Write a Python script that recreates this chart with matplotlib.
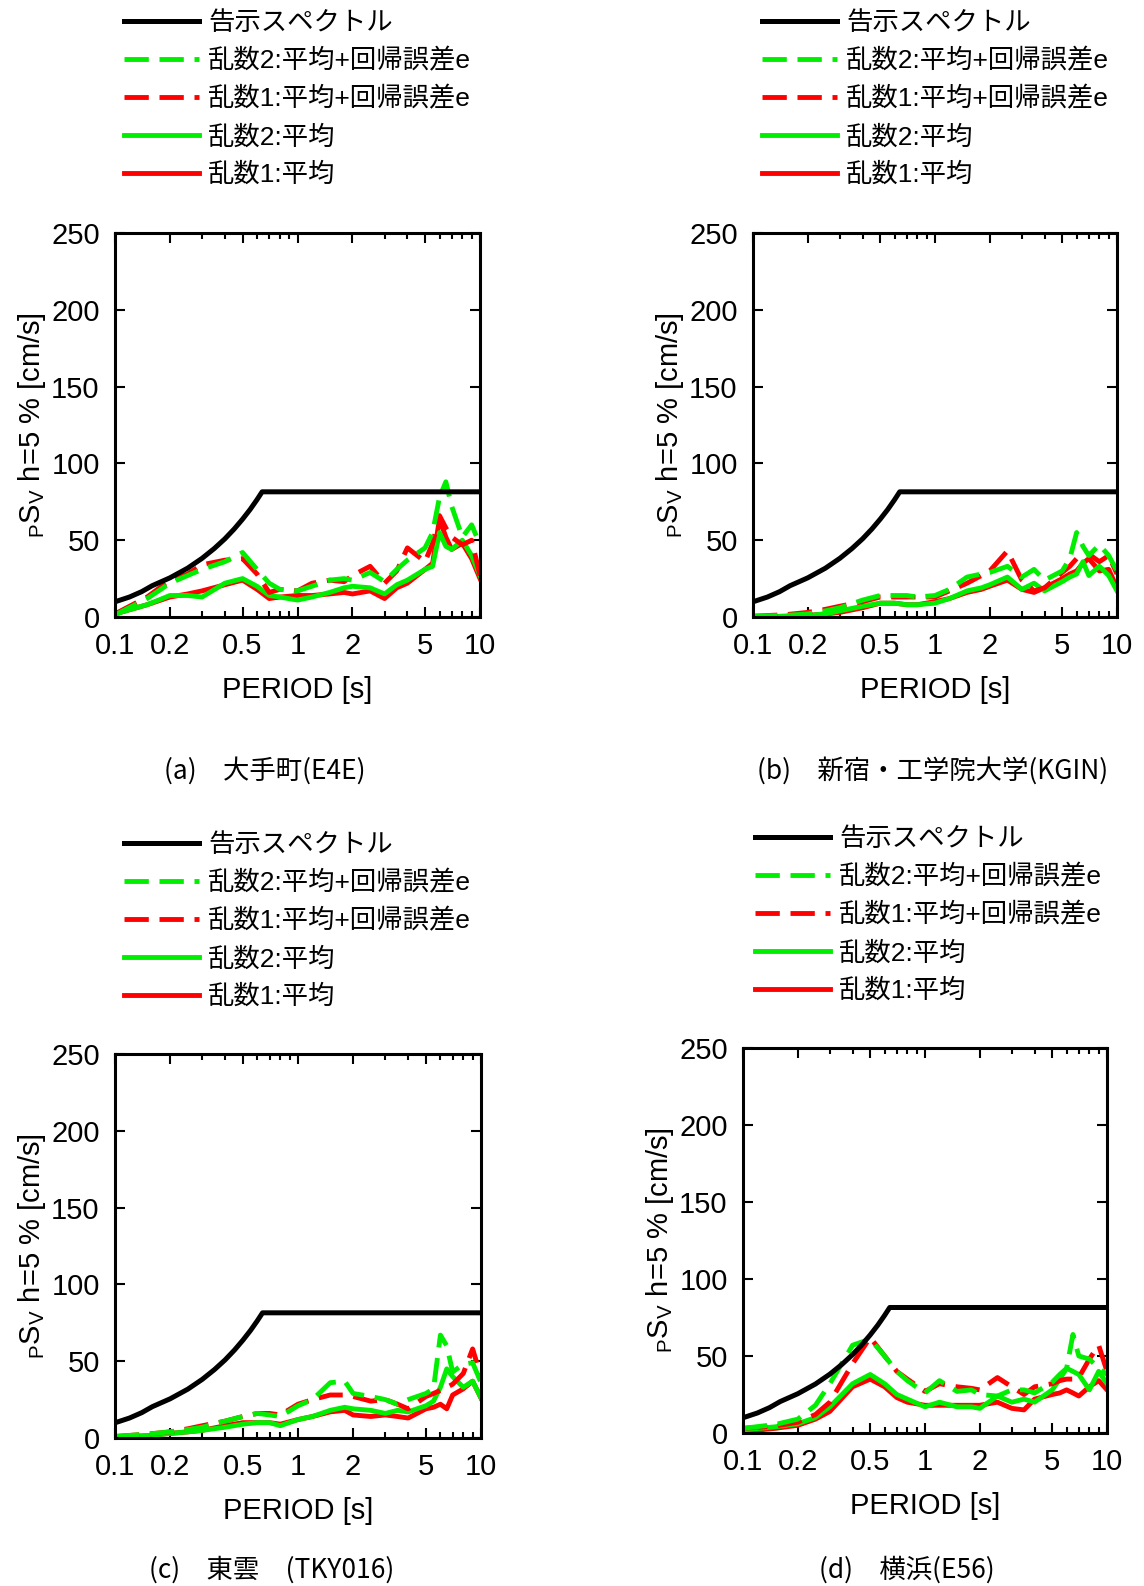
import matplotlib
matplotlib.use("Agg")
import matplotlib.pyplot as plt
from matplotlib.ticker import FixedLocator, NullFormatter
from matplotlib.lines import Line2D

plt.rcParams['font.family'] = ['Liberation Sans', 'Noto Sans CJK JP']
plt.rcParams['mathtext.fontset'] = 'custom'
plt.rcParams['mathtext.rm'] = 'Liberation Sans'
plt.rcParams['mathtext.it'] = 'Liberation Sans:italic'

# 告示スペクトル
t_code = [0.1, 0.12, 0.14, 0.16, 0.2, 0.25, 0.3, 0.35, 0.4, 0.45, 0.5, 0.55, 0.6, 0.64, 10.0]
sv_code = [9.9, 13.0, 16.5, 20.4, 25.5, 31.8, 38.2, 44.6, 50.9, 57.3, 63.7, 70.0, 76.4, 81.5, 81.5]

# period grid for the simulated spectra
period = [0.1, 0.15, 0.2, 0.25, 0.3, 0.4, 0.5, 0.6, 0.7, 0.8, 1.0, 1.2, 1.5, 1.8, 2.0,
          2.5, 3.0, 3.5, 4.0, 5.0, 5.5, 6.0, 6.5, 7.0, 8.0, 9.0, 10.0]

# (a) 大手町
a_g_e = [1.3, 12, 22, 27, 31, 36, 42, 31, 22, 18, 17, 20, 24, 25, 24, 29, 23, 31, 37, 45, 55, 78, 88, 72, 52, 60, 47]
a_r_e = [2, 13, 24, 28, 34, 37, 38, 28, 16, 18, 17, 22, 24, 23, 27, 33, 22, 30, 45, 36, 48, 66, 58, 52, 47, 50, 27]
a_g = [2, 8, 14, 14, 13, 22, 25, 20, 14, 13, 11, 13, 16, 19, 20, 19, 15, 21, 24, 31, 33, 55, 46, 44, 50, 40, 27]
a_r = [2, 8, 13, 15, 17, 21, 24, 18, 12, 13, 14, 14, 15, 16, 15, 17, 12, 19, 22, 31, 35, 64, 52, 44, 48, 38, 25]

# (b) 新宿・工学院大学
b_g_e = [0.5, 1, 2, 4, 6, 11, 14, 14, 14, 13, 14, 18, 26, 28, 29, 33, 26, 31, 24, 30, 38, 55, 46, 40, 47, 40, 30]
b_r_e = [0.5, 1.5, 3, 5, 7, 10, 13, 13, 13, 13, 13, 17, 22, 27, 30, 43, 24, 17, 19, 29, 33, 38, 40, 41, 36, 40, 28]
b_g = [0, 0.5, 1, 2, 4, 7, 9, 9, 8, 8, 9, 12, 17, 19, 21, 26, 18, 22, 17, 23, 26, 28, 36, 27, 33, 27, 17]
b_r = [0, 0.5, 1, 2, 3, 6, 9, 9, 8, 8, 10, 12, 16, 18, 20, 24, 18, 16, 19, 25, 28, 30, 35, 38, 30, 31, 19]

# (c) 東雲
c_g_e = [1, 2.5, 4, 5.5, 7, 11, 14, 16, 15, 14, 21, 25, 36, 37, 29, 27, 25, 22, 25, 29, 32, 67, 60, 43, 48, 49, 36]
c_r_e = [1, 2.5, 4, 6, 8, 11, 14, 16, 16, 15, 22, 25, 28, 28, 27, 24, 25, 22, 19, 27, 29, 31, 33, 35, 42, 58, 40]
c_g = [0.5, 1.5, 3, 4, 5, 7, 9, 10, 10, 8, 12, 14, 18, 20, 19, 18, 16, 18, 17, 21, 24, 33, 45, 40, 33, 37, 26]
c_r = [0.5, 1.5, 3, 4, 5, 8, 10, 10, 10, 9, 12, 14, 17, 18, 15, 14, 15, 14, 13, 19, 20, 22, 19, 28, 32, 37, 26]

# (d) 横浜
d_g_e = [3, 5.5, 9, 18, 32, 57, 61, 50, 40, 34, 26, 34, 27, 28, 25, 24, 28, 28, 26, 33, 38, 42, 64, 50, 48, 42, 38]
d_r_e = [3, 4.5, 7, 12, 20, 45, 62, 50, 40, 35, 27, 32, 30, 29, 28, 36, 30, 25, 30, 32, 34, 35, 35, 36, 48, 57, 40]
d_g = [2, 4, 6, 10, 17, 32, 38, 32, 25, 22, 17, 20, 17, 17, 16, 24, 20, 22, 20, 28, 35, 42, 40, 38, 28, 40, 32]
d_r = [1, 3, 5, 9, 14, 30, 35, 30, 23, 20, 18, 18, 18, 18, 18, 20, 16, 15, 22, 25, 26, 28, 26, 24, 30, 34, 28]

captions = ['(a)\u3000大手町(E4E)', '(b)\u3000新宿・工学院大学(KGIN)',
            '(c)\u3000東雲\u3000(TKY016)', '(d)\u3000横浜(E56)']
labels = ['告示スペクトル', '乱数2:平均+回帰誤差e', '乱数1:平均+回帰誤差e', '乱数2:平均', '乱数1:平均']

RED = '#ff0000'
GREEN = '#00ee00'
DASH = (5.0, 2.2)
LW = 3.5

W, H = 1144, 1586
fig = plt.figure(figsize=(W / 100, H / 100), dpi=100)

# pixel boxes: left, top, right, bottom ; legend anchor x, y ; caption x, y
panels = [
    ((115, 233, 480, 617), (124, 11), (265, 771), (a_g_e, a_r_e, a_g, a_r)),
    ((753, 233, 1117, 617), (762, 11), (933, 771), (b_g_e, b_r_e, b_g, b_r)),
    ((115, 1054, 481, 1438), (124, 833), (272, 1570), (c_g_e, c_r_e, c_g, c_r)),
    ((743, 1048, 1107, 1433), (755, 827), (907, 1570), (d_g_e, d_r_e, d_g, d_r)),
]

for i, (box, leg_xy, cap_xy, series) in enumerate(panels):
    l, t, r, b = box
    ax = fig.add_axes([l / W, 1 - b / H, (r - l) / W, (b - t) / H])
    g_e, r_e, g_m, r_m = series

    ax.plot(period, r_m, color=RED, lw=LW)
    ax.plot(period, g_m, color=GREEN, lw=LW)
    ax.plot(period, r_e, color=RED, lw=LW, dashes=DASH)
    ax.plot(period, g_e, color=GREEN, lw=LW, dashes=DASH)
    ax.plot(t_code, sv_code, color='black', lw=3.6)

    ax.set_xscale('log')
    ax.set_xlim(0.1, 10)
    ax.set_ylim(0, 250)
    ax.xaxis.set_major_locator(FixedLocator([0.1, 0.2, 0.5, 1, 2, 5, 10]))
    ax.xaxis.set_minor_locator(FixedLocator([0.3, 0.4, 0.6, 0.7, 0.8, 0.9, 3, 4, 6, 7, 8, 9]))
    ax.xaxis.set_minor_formatter(NullFormatter())
    ax.set_xticklabels(['0.1', '0.2', '0.5', '1', '2', '5', '10'])
    ax.set_yticks([0, 50, 100, 150, 200, 250])
    ax.tick_params(which='both', direction='in', top=True, right=True, labelsize=21, width=1.5)
    ax.tick_params(which='major', length=7)
    ax.tick_params(which='minor', length=4.5)
    ax.tick_params(axis='x', pad=11)
    ax.tick_params(axis='y', pad=11)
    for s in ax.spines.values():
        s.set_linewidth(2.2)

    ax.set_xlabel('PERIOD [s]', fontsize=21, labelpad=11)
    ax.set_ylabel(r'${}_{\mathrm{P}}\mathrm{S}_{\mathrm{V}}$ h=5 % [cm/s]', fontsize=21, labelpad=2)

    handles = [
        Line2D([], [], color='black', lw=3.6),
        Line2D([], [], color=GREEN, lw=LW, dashes=DASH),
        Line2D([], [], color=RED, lw=LW, dashes=DASH),
        Line2D([], [], color=GREEN, lw=LW),
        Line2D([], [], color=RED, lw=LW),
    ]
    fig.legend(handles, labels, loc='upper left',
               bbox_to_anchor=(leg_xy[0] / W, 1 - leg_xy[1] / H),
               bbox_transform=fig.transFigure, frameon=False,
               fontsize=19, handlelength=2.84, handletextpad=0.34,
               labelspacing=0.5, borderpad=0, borderaxespad=0)

    fig.text(cap_xy[0] / W, 1 - cap_xy[1] / H, captions[i], ha='center', va='center',
             fontsize=19, family=['Noto Sans CJK JP', 'DejaVu Sans'])

fig.savefig('out.png', dpi=100)
